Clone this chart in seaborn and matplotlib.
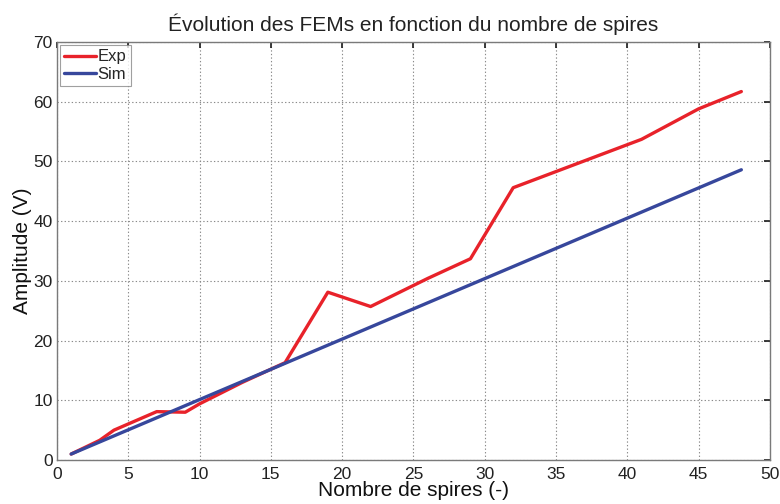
import matplotlib
matplotlib.use("Agg")
import matplotlib.pyplot as plt
import seaborn as sns
import pandas as pd

# Measured EMF amplitude vs number of turns
exp_turns = [1, 3, 4, 7, 9, 10, 13, 16, 19, 22, 26, 29, 32, 41, 45, 48]
exp_amp = [1.0, 3.3, 5.0, 8.1, 8.0, 9.4, 13.0, 16.3, 28.1, 25.7, 30.4, 33.7, 45.6, 53.7, 58.8, 61.7]

# Simulated EMF amplitude vs number of turns
sim_turns = [1, 48]
sim_amp = [1.0, 48.6]

title = "Évolution des FEMs en fonction du nombre de spires"
xlabel = "Nombre de spires (-)"
ylabel = "Amplitude (V)"

sns.set_theme(style="white")
plt.rcParams["font.family"] = ["Liberation Sans", "DejaVu Sans"]

df_exp = pd.DataFrame({"x": exp_turns, "y": exp_amp})
df_sim = pd.DataFrame({"x": sim_turns, "y": sim_amp})

fig = plt.figure(figsize=(7.8, 5.04), dpi=100)
ax = fig.add_axes([0.073, 0.0873, 0.914, 0.8294])

sns.lineplot(data=df_exp, x="x", y="y", ax=ax, color="#e8222a", lw=2.4,
             label="Exp", sort=False)
sns.lineplot(data=df_sim, x="x", y="y", ax=ax, color="#37479c", lw=2.4,
             label="Sim", sort=False)

ax.set_xlim(0, 50)
ax.set_ylim(0, 70)
ax.set_xticks(range(0, 51, 5))
ax.set_yticks(range(0, 71, 10))
ax.grid(True, linestyle=(0, (1.2, 2.0)), color="#8a8a8a", linewidth=0.8)
ax.tick_params(direction="in", length=4, top=True, right=True,
               labelsize=12.5, colors="#222222", pad=3)
ax.tick_params(axis="x", pad=5)
for s in ax.spines.values():
    s.set_color("#7a7a7a")
    s.set_linewidth(1.0)

ax.set_title(title, fontsize=15, pad=8, color="#222222")
ax.set_xlabel(xlabel, fontsize=15, labelpad=-1, color="#111111")
ax.set_ylabel(ylabel, fontsize=15, labelpad=1, color="#111111")

leg = ax.legend(loc="upper left", fontsize=12, frameon=True, fancybox=False,
                borderaxespad=0.2, handlelength=1.9, handletextpad=0.1,
                borderpad=0.25, labelspacing=0.15)
leg.get_frame().set_edgecolor("#888888")
leg.get_frame().set_linewidth(0.8)

fig.savefig("out.png", dpi=100)
